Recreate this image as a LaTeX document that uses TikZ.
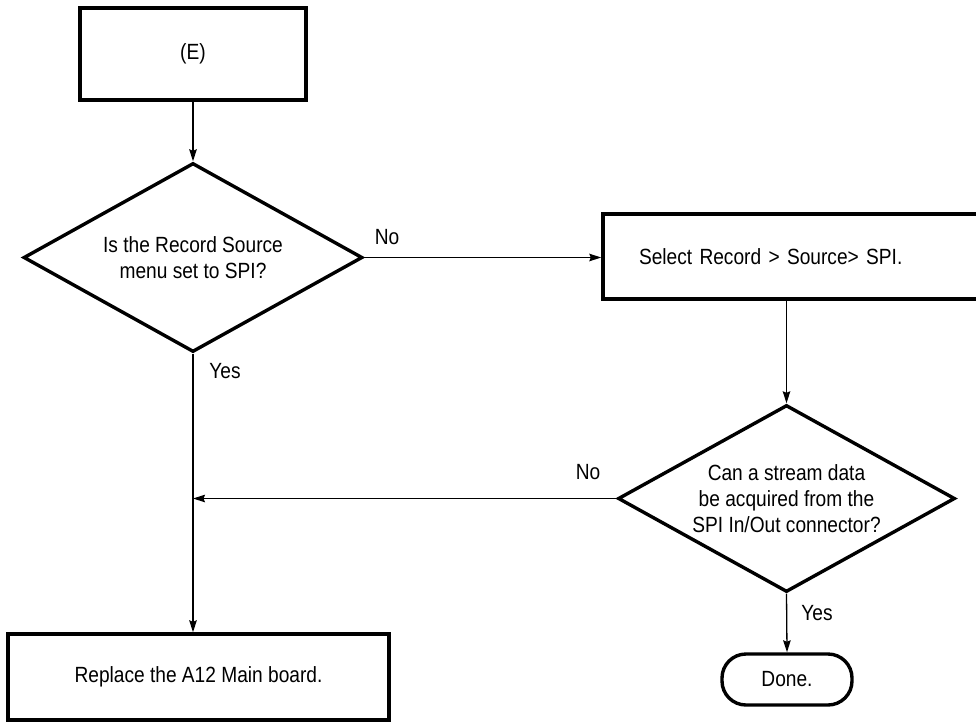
\documentclass[tikz,border=0pt]{standalone}
\usepackage{fontspec}
\setmainfont{Liberation Sans}[FakeStretch=0.87]
\usetikzlibrary{shapes.geometric,arrows.meta}
\begin{document}
\begin{tikzpicture}[x=1pt,y=-1pt,
  every node/.style={font=\fontsize{22}{26}\selectfont},
  procbox/.style={draw, line width=3.4pt, inner sep=0pt},
  decide/.style={draw, diamond, line width=3.4pt, inner sep=0pt, shape aspect=1.8, align=center},
  term/.style={draw, line width=3.4pt, rounded corners=24pt, inner sep=0pt},
  flow/.style={line width=1.3pt, -{Stealth[length=12pt,width=7.5pt,inset=1.5pt]}},
  lbl/.style={inner sep=0pt}]
\useasboundingbox (0,0) rectangle (976,723);
\clip (0,0) rectangle (976,723);
\node[procbox, minimum width=226pt, minimum height=92pt] (e) at (193,54) {(E)};
\node[decide, minimum width=339pt, minimum height=189pt] (d1) at (193,257.5) {Is the Record Source\\menu set to SPI?};
\node[procbox, minimum width=420pt, minimum height=85pt, text width=348pt, inner xsep=36pt, align=left] (b2) at (813,256.5) {Select Record > Source> SPI.};
\node[decide, minimum width=337pt, minimum height=187pt] (d2) at (786.5,498.5) {Can a stream data\\be acquired from the\\SPI In/Out connector?};
\node[procbox, minimum width=381pt, minimum height=86pt] (b3) at (198.5,677) {Replace the A12 Main board.};
\node[term, minimum width=130pt, minimum height=51pt] (done) at (787,679.5) {Done.};
\coordinate (j) at (d1.south |- d2.west);
\draw[flow] (e.south) -- (d1.north);
\draw[flow] (d1.east) -- (b2.west |- d1.east);
\draw[flow] (d2.north |- b2.south) -- (d2.north);
\draw[flow] (d2.west) -- (j);
\draw[flow] (d1.south) -- (d1.south |- b3.north);
\draw[flow] (d2.south) -- (done.north);
\node[lbl] (no1) at (387,237) {No};
\node[lbl] (yes1) at (225,371) {Yes};
\node[lbl] (no2) at (588,472) {No};
\node[lbl] (yes2) at (817,613) {Yes};
\end{tikzpicture}
\end{document}
